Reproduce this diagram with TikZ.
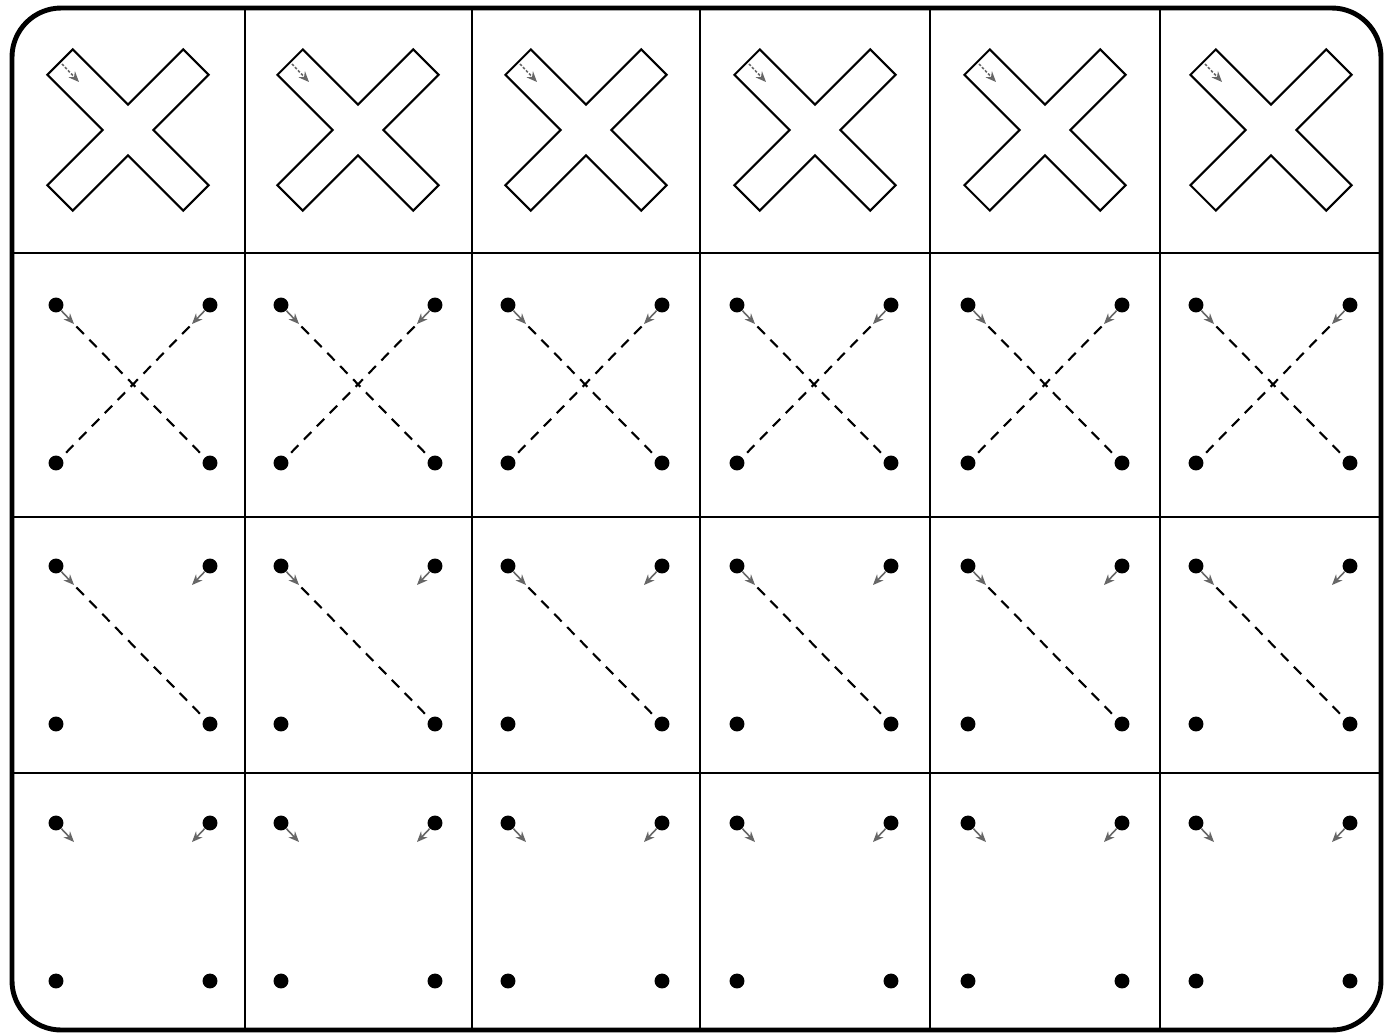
\documentclass[tikz,border=0pt]{standalone}
\usetikzlibrary{arrows.meta}
\begin{document}
\begin{tikzpicture}[x=0.02cm,y=-0.02cm,
  frame/.style={line width=2.8pt, rounded corners=28pt},
  gridline/.style={line width=1.4pt},
  xshape/.style={line width=1.2pt, line join=miter},
  dot/.style={circle, fill=black, inner sep=0pt, minimum size=8.5pt},
  guide/.style={black!60, line width=0.9pt, -{Stealth[length=6pt,width=5pt,fill=black!35]}},
  xguide/.style={guide, dash pattern=on 1.5pt off 1pt},
  trace/.style={line width=1.2pt, dash pattern=on 6pt off 4.5pt, shorten <=2pt},
]
\useasboundingbox (0,0) rectangle (1386,1035);
% frame and grid
\draw[frame] (12,8) rectangle (1381,1030);
\foreach \gx in {245,472,700,930,1160}
  \draw[gridline] (\gx,8) -- (\gx,1030);
\foreach \gy in {253,517,773}
  \draw[gridline] (12,\gy) -- (1381,\gy);
% columns
\foreach \cx/\dx [count=\i] in {128/133,358/358,586/585,815/814,1045/1045,1271/1273}{
  % row 1: outlined X with a start arrow
  \begin{scope}[shift={(\cx,130)}, rotate=45]
    \draw[xshape] (96,-18) -- (96,18) -- (18,18) -- (18,96) -- (-18,96) -- (-18,18)
      -- (-96,18) -- (-96,-18) -- (-18,-18) -- (-18,-96) -- (18,-96) -- (18,-18) -- cycle;
  \end{scope}
  \coordinate (xs\i) at (\cx-66,130-66);
  \coordinate (xe\i) at (\cx-49,130-48);
  \draw[xguide] (xs\i) -- (xe\i);
  % rows 2-4: four dots each
  \foreach \cy/\r in {384/2,645/3,902/4}{
    \node[dot] (tl\r-\i) at (\dx-77,\cy-79) {};
    \node[dot] (tr\r-\i) at (\dx+77,\cy-79) {};
    \node[dot] (bl\r-\i) at (\dx-77,\cy+79) {};
    \node[dot] (br\r-\i) at (\dx+77,\cy+79) {};
    \coordinate (tla\r-\i) at (\dx-77+18,\cy-79+19);
    \coordinate (tra\r-\i) at (\dx+77-18,\cy-79+19);
    \draw[guide] (tl\r-\i) -- (tla\r-\i);
    \draw[guide] (tr\r-\i) -- (tra\r-\i);
  }
  \draw[trace] (tla2-\i) -- (br2-\i);
  \draw[trace] (tra2-\i) -- (bl2-\i);
  \draw[trace] (tla3-\i) -- (br3-\i);
}
\end{tikzpicture}
\end{document}
